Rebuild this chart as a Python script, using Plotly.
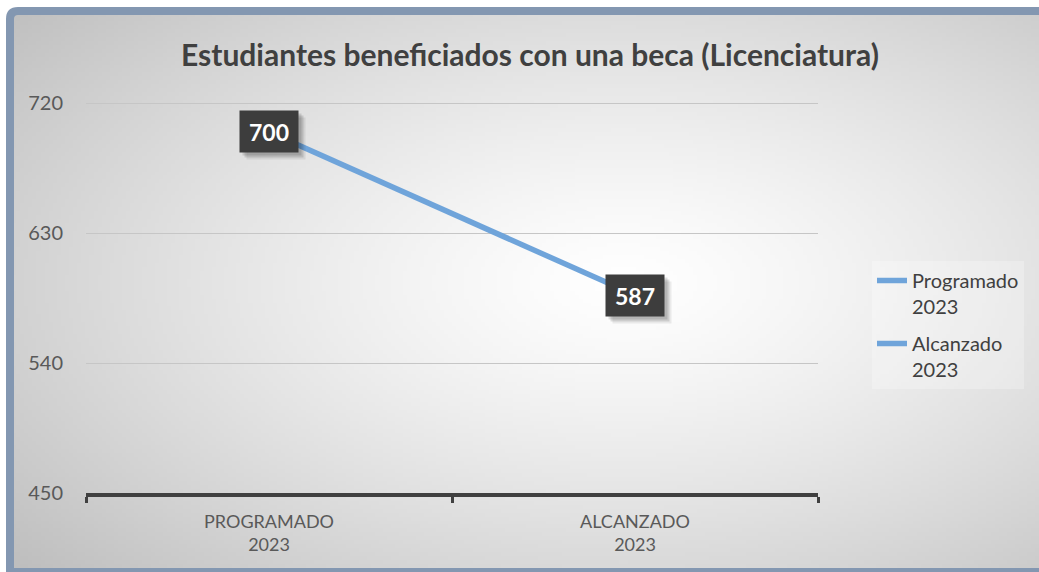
import base64
import struct
import zlib

import numpy as np
import plotly.graph_objects as go

# data
categorias = ["PROGRAMADO<br>2023", "ALCANZADO<br>2023"]
valores = [700, 587]
series = ["Programado<br>2023", "Alcanzado<br>2023"]
titulo = "Estudiantes beneficiados con una beca (Licenciatura)"

W, H = 1039, 572
FONT = "Lato"
AZUL = "#6fa4da"


def gradient_png(w, h, cx, cy):
    # radial grey -> white background, encoded as a tiny png
    yy, xx = np.mgrid[0:h, 0:w]
    d = np.sqrt(((xx - cx) / w) ** 2 + ((yy - cy) / h) ** 2)
    t = np.clip(d / d.max(), 0, 1)
    g = (255 - 66 * t ** 1.3).astype(np.uint8)
    rgb = np.dstack([g, g, g])
    raw = b"".join(b"\x00" + rgb[r].tobytes() for r in range(h))

    def chunk(tag, data):
        c = struct.pack(">I", len(data)) + tag + data
        return c + struct.pack(">I", zlib.crc32(tag + data) & 0xFFFFFFFF)

    png = b"\x89PNG\r\n\x1a\n"
    png += chunk(b"IHDR", struct.pack(">IIBBBBB", w, h, 8, 2, 0, 0, 0))
    png += chunk(b"IDAT", zlib.compress(raw, 9))
    png += chunk(b"IEND", b"")
    return "data:image/png;base64," + base64.b64encode(png).decode()


def px(x, y):
    return x / W, (H - y) / H


fig = go.Figure()
fig.add_trace(go.Scatter(
    x=categorias, y=valores, mode="lines", name=series[0],
    line=dict(color=AZUL, width=5.5), legendgroup="a", hoverinfo="skip",
))
fig.add_trace(go.Scatter(
    x=[None], y=[None], mode="lines", name=series[1],
    line=dict(color=AZUL, width=5.5), legendgroup="b",
))

# data labels with a soft shadow
for cat, val in zip(categorias, valores):
    for off, alpha in [(7, 0.07), (5, 0.12), (3, 0.12)]:
        fig.add_annotation(x=cat, y=val, text=" ", showarrow=False,
                           xshift=off, yshift=-off, width=50, height=33,
                           borderpad=4, bgcolor=f"rgba(0,0,0,{alpha})",
                           font=dict(family=FONT, size=23))
    fig.add_annotation(x=cat, y=val, text=f"<b>{val}</b>", showarrow=False,
                       width=50, height=33, borderpad=4, bgcolor="#3d3d3d",
                       font=dict(family=FONT, size=23, color="white"))

# background gradient inside the frame
fx0, fy0 = px(10, 11)
fig.add_layout_image(
    source=gradient_png(260, 143, 150, 68), xref="paper", yref="paper",
    x=fx0, y=fy0, sizex=1.02, sizey=fy0 + 0.01, sizing="stretch",
    xanchor="left", yanchor="top", layer="below",
)

# blue-grey frame with rounded corner
a = px(10, 576)
b = px(10, 19)
c = px(10, 11)
d = px(18, 11)
e = px(1046, 11)
fig.add_shape(
    type="path", xref="paper", yref="paper",
    path=f"M {a[0]},{a[1]} L {b[0]},{b[1]} Q {c[0]},{c[1]} {d[0]},{d[1]} L {e[0]},{e[1]}",
    line=dict(color="#8397b1", width=8),
)
f0 = px(10, 571)
f1 = px(1046, 571)
fig.add_shape(type="line", xref="paper", yref="paper",
              x0=f0[0], y0=f0[1], x1=f1[0], y1=f1[1],
              line=dict(color="#8397b1", width=6))

# y range runs a little past 720 so its gridline is drawn
y_top = 103 - 4 * 390 / 270

fig.update_layout(
    width=W, height=H,
    margin=dict(l=0, r=0, t=0, b=0),
    paper_bgcolor="white",
    plot_bgcolor="rgba(0,0,0,0)",
    font=dict(family=FONT, color="#595959"),
    title=dict(text=f"<b>{titulo}</b>", x=530 / W, y=(H - 55) / H,
               xanchor="center", yanchor="middle",
               font=dict(family=FONT, size=30, color="#404040")),
    xaxis=dict(
        domain=[86 / W, 818 / W], type="category", range=[-0.5, 1.5],
        showline=True, linecolor="#404040", linewidth=4,
        ticks="outside", tickson="boundaries", ticklen=6, tickwidth=3,
        tickcolor="#404040", showgrid=False, automargin=False,
        tickfont=dict(size=18, color="#595959"), ticklabelstandoff=9,
    ),
    yaxis=dict(
        domain=[(H - 493) / H, (H - y_top) / H], range=[450, 724],
        tickvals=[450, 540, 630, 720], showgrid=True, gridcolor="#c6c6c6",
        gridwidth=1, zeroline=False, showline=False, ticks="",
        automargin=False, ticklabelstandoff=22,
        tickfont=dict(size=20, color="#595959"),
    ),
    showlegend=True,
    legend=dict(
        x=872 / W, y=(H - 261) / H, xanchor="left", yanchor="top",
        bgcolor="rgba(255,255,255,0.25)", valign="top",
        traceorder="grouped", tracegroupgap=8,
        font=dict(family=FONT, size=20, color="#404040"),
    ),
)

# the page body has a default 8px margin; drop it so the chart sits at 0,0
fig.write_html("out.html", config={"displayModeBar": False},
               post_script="document.body.style.margin='0';")
